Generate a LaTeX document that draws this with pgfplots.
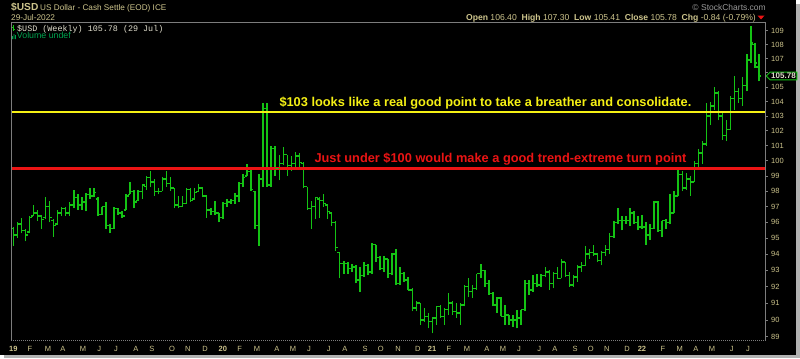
\documentclass[border=0pt]{standalone}
\usepackage{pgfplots}
\pgfplotsset{compat=1.18}
\usepackage{pgfplotstable}
\usepackage{fontspec}
\setmainfont{Liberation Sans}
\newfontfamily\monofont{Liberation Mono}
\usetikzlibrary{shapes.symbols}
\definecolor{barg}{RGB}{20,195,20}
\definecolor{khaki}{RGB}{205,196,140}
\definecolor{frameg}{RGB}{125,125,125}
\definecolor{annoy}{RGB}{245,240,20}
\definecolor{annor}{RGB}{235,20,20}
\definecolor{volg}{RGB}{0,165,80}
\definecolor{legw}{RGB}{225,222,205}
\pgfdeclareplotmark{otick}{\pgfpathmoveto{\pgfqpoint{-2.4bp}{0pt}}\pgfpathlineto{\pgfqpoint{0pt}{0pt}}\pgfusepathqstroke}
\pgfdeclareplotmark{ctick}{\pgfpathmoveto{\pgfqpoint{0pt}{0pt}}\pgfpathlineto{\pgfqpoint{2.4bp}{0pt}}\pgfusepathqstroke}

\pgfplotstableread{
j o h l c
0 95.6 95.7 94.5 95.2
1 95.2 96.0 95.0 95.9
2 95.9 96.3 95.3 95.5
3 95.5 95.6 94.8 95.2
4 95.4 96.4 95.3 96.3
5 96.4 97.1 96.4 96.6
6 96.6 96.8 96.1 96.4
7 96.4 96.4 95.6 96.2
8 96.3 97.6 96.2 97.0
9 97.0 97.4 96.0 96.3
10 96.1 96.2 95.1 95.8
11 95.9 96.8 95.9 96.6
12 96.6 97.0 96.4 96.9
13 96.9 97.0 96.4 96.6
14 96.6 97.3 96.4 97.1
15 97.1 98.1 96.9 97.6
16 97.6 97.8 96.8 97.1
17 97.1 97.6 96.8 97.3
18 97.3 97.9 96.7 97.8
19 97.8 98.2 97.5 97.7
20 97.7 98.2 97.6 97.9
21 97.5 97.6 96.4 96.5
22 96.5 97.0 96.5 97.0
23 97.0 97.3 95.6 95.8
24 95.8 95.9 95.3 95.6
25 95.6 97.0 95.6 96.9
26 96.9 96.9 96.5 96.6
27 96.6 96.7 96.3 96.4
28 96.8 97.8 96.8 97.7
29 97.8 98.6 97.8 98.0
30 98.0 98.1 96.9 97.3
31 97.4 98.1 97.4 98.0
32 98.0 98.5 97.5 98.4
33 98.3 99.0 98.1 98.9
34 98.9 99.3 98.3 98.6
35 98.6 98.8 97.7 98.0
36 98.0 98.2 97.8 98.0
37 98.0 98.9 98.0 98.8
38 98.8 99.3 98.3 98.5
39 98.5 98.9 98.0 98.2
40 98.2 98.2 96.9 97.1
41 97.1 97.7 96.9 97.0
42 97.0 97.7 97.0 97.2
43 97.2 98.2 97.2 98.1
44 98.1 98.2 97.3 97.4
45 97.5 98.2 97.5 97.9
46 98.0 98.5 98.0 98.2
47 98.2 98.2 97.6 97.7
48 97.7 97.7 96.3 96.8
49 96.8 96.9 96.5 96.7
50 96.7 97.4 96.5 96.6
51 96.6 96.6 96.0 96.3
52 96.3 97.3 96.2 97.2
53 97.2 97.5 97.0 97.3
54 97.3 97.5 97.2 97.4
55 97.4 97.9 97.2 97.7
56 97.7 98.6 97.3 98.5
57 98.5 99.1 98.3 98.9
58 99.0 99.8 99.0 99.3
59 99.3 99.4 98.0 98.1
60 98.0 98.0 95.6 95.8
61 95.8 99.1 94.5 98.8
62 98.8 103.9 98.3 103.5
63 103.5 103.9 98.3 98.4
64 98.4 101.0 98.3 100.8
65 100.8 101.0 99.0 99.5
66 99.5 100.4 98.7 99.8
67 99.8 100.9 99.7 100.4
68 100.4 100.4 99.0 99.7
69 99.7 100.3 99.3 99.8
70 99.8 100.6 99.4 100.3
71 100.3 100.5 99.5 99.9
72 99.8 99.9 98.2 98.3
73 98.3 98.3 96.8 96.9
74 96.9 97.4 95.6 97.0
75 97.0 97.6 96.2 97.6
76 97.5 97.6 96.3 97.4
77 97.4 97.8 97.0 97.2
78 97.1 97.1 96.2 96.7
79 96.6 96.6 95.8 96.0
80 96.0 96.1 94.2 94.4
81 94.1 94.1 92.5 93.4
82 93.4 93.6 92.8 93.4
83 93.4 93.5 92.8 93.1
84 93.1 93.4 92.9 93.2
85 93.2 93.3 92.2 92.4
86 92.4 93.2 91.7 92.7
87 92.7 93.5 92.6 93.3
88 93.3 93.4 92.7 92.9
89 92.9 94.7 92.8 94.6
90 94.6 94.6 93.5 93.8
91 93.8 93.9 93.0 93.1
92 93.1 93.9 92.9 93.7
93 93.7 93.7 92.5 92.8
94 92.8 94.1 92.7 94.0
95 94.0 94.3 92.1 92.2
96 92.2 93.2 92.1 92.8
97 92.8 92.9 92.3 92.4
98 92.4 92.6 91.8 91.8
99 91.8 91.9 90.5 90.7
100 90.7 91.1 90.5 91.0
101 91.0 91.0 89.7 90.0
102 90.0 90.7 89.9 90.2
103 90.2 90.4 89.5 89.9
104 89.9 90.1 89.2 90.1
105 90.1 90.8 89.7 90.8
106 90.8 90.9 90.1 90.2
107 90.2 90.7 89.7 90.6
108 90.6 91.6 90.3 91.0
109 91.0 91.1 90.3 90.5
110 90.5 91.0 90.1 90.4
111 90.4 91.0 89.7 90.9
112 90.9 92.1 90.8 92.0
113 92.0 92.5 91.4 91.7
114 91.7 92.1 91.3 91.9
115 91.9 92.8 91.8 92.8
116 92.8 93.4 92.5 93.0
117 93.0 93.0 92.0 92.2
118 92.2 92.4 91.5 91.6
119 91.6 91.7 90.8 90.9
120 90.9 91.4 90.4 91.3
121 91.3 91.4 90.2 90.2
122 90.2 90.9 89.7 90.3
123 90.3 90.3 89.7 90.0
124 90.0 90.3 89.6 90.0
125 90.0 90.6 89.5 90.1
126 90.1 90.6 89.7 90.6
127 90.6 92.4 90.5 92.2
128 92.2 92.4 91.5 91.8
129 91.8 92.7 91.7 92.2
130 92.2 92.8 92.0 92.1
131 92.1 92.8 92.0 92.7
132 92.7 93.2 92.6 92.9
133 92.9 93.0 91.8 92.2
134 92.2 92.9 91.9 92.8
135 92.8 93.2 92.5 92.5
136 92.5 93.7 92.5 93.5
137 93.5 93.5 92.6 92.7
138 92.7 92.9 92.0 92.1
139 92.1 92.7 92.0 92.6
140 92.6 93.3 92.3 93.2
141 93.2 93.5 92.9 93.3
142 93.3 94.5 93.3 94.0
143 94.0 94.3 93.7 94.1
144 94.1 94.6 93.9 94.0
145 94.0 94.0 93.5 93.6
146 93.6 94.2 93.3 94.1
147 94.1 94.6 93.9 94.3
148 94.3 95.3 94.0 95.1
149 95.1 96.1 95.0 96.0
150 96.0 96.9 95.9 96.1
151 96.1 96.4 95.5 96.1
152 96.1 96.4 95.9 96.1
153 96.1 96.9 95.8 96.6
154 96.6 96.7 95.9 96.0
155 96.0 96.4 95.5 95.7
156 95.7 96.5 95.6 95.7
157 95.7 96.0 94.6 95.2
158 95.2 95.9 94.9 95.6
159 95.6 97.4 95.6 97.3
160 97.3 97.4 95.4 95.5
161 95.5 96.1 95.1 96.1
162 96.1 96.2 95.6 96.0
163 96.0 97.8 95.9 96.6
164 96.6 98.0 96.6 97.7
165 97.7 99.4 97.7 99.1
166 99.1 99.3 98.0 98.2
167 98.2 99.2 98.1 98.8
168 98.8 99.0 97.7 98.6
169 98.6 100.0 98.6 99.8
170 99.8 100.8 99.6 100.5
171 100.5 101.3 99.8 101.1
172 101.1 103.9 101.0 103.0
173 103.0 104.0 102.4 103.7
174 103.7 105.0 103.4 104.6
175 104.6 104.7 102.7 103.0
176 103.0 103.2 101.4 101.7
177 101.7 102.7 101.3 102.1
178 102.1 104.4 102.1 104.2
179 104.2 105.8 103.4 104.7
180 104.7 104.9 103.9 104.2
181 104.2 105.7 103.7 105.1
182 105.1 107.3 104.7 106.9
183 106.9 109.3 106.7 108.1
184 108.0 108.1 106.3 106.7
185 106.4 107.3 105.4 105.78
}\usd

\begin{document}
\begin{tikzpicture}
\useasboundingbox (0,0) rectangle (800bp,-359bp);
\fill[white] (0,0) rectangle (800bp,-359bp);
\fill[black!30] (4bp,-4bp) rectangle (800bp,-358bp);
\fill[black] (0,0) rectangle (796bp,-355bp);
\pgfplotstablegetrowsof{\usd}
\pgfmathtruncatemacro{\lastrow}{\pgfplotsretval-1}
\begin{axis}[
  at={(11bp,-340.7bp)}, anchor=south west,
  scale only axis, width=754bp, height=318bp,
  xmin=-0.571, xmax=186.53,
  ymode=log, ymin=88.77, ymax=109.58,
  axis line style={draw=none},
  clip=false,
  ytick={89,90,91,92,93,94,95,96,97,98,99,100,101,102,103,104,105,106,107,108,109},
  yticklabels={89,90,91,92,93,94,95,96,97,98,99,100,101,102,103,104,105,{},107,108,109},
  ytick pos=right, yticklabel pos=right,
  tick align=outside,
  major tick length=2.5bp,
  minor tick num=0,
  ytick style={draw=frameg, line width=0.6bp},
  yticklabel style={anchor=west, inner sep=0pt, xshift=3.5bp, text=khaki,
    font=\fontsize{7.5bp}{9bp}\selectfont},
  xtick={0,4.14,8.6,12.3,17.3,21.3,25.5,30.4,34.4,39.4,43.3,47.6,52.0,56.2,60.5,65.4,69.4,73.4,78.3,82.3,87.3,91.2,95.5,100.4,103.9,108.1,112.6,117.5,121.5,125.5,130.5,134.4,139.4,143.3,147.3,152.3,156.0,161.2,165.4,169.4,173.4,178.3,182.3},
  xticklabels={\textbf{19},F,M,A,M,J,J,A,S,O,N,D,\textbf{20},F,M,A,M,J,J,A,S,O,N,D,\textbf{21},F,M,A,M,J,J,A,S,O,N,D,\textbf{22},F,M,A,M,J,J},
  xtick pos=bottom,
  xtick style={draw=none},
  xticklabel style={anchor=base, inner sep=0pt, yshift=-8.6bp, text=khaki,
    font=\fontsize{7.5bp}{9bp}\selectfont},
]
% high-low bars, one per week, read from the table
\pgfplotsinvokeforeach{0,...,\lastrow}{
  \pgfplotstablegetelem{#1}{j}\of{\usd}\let\jj\pgfplotsretval
  \pgfplotstablegetelem{#1}{l}\of{\usd}\let\lo\pgfplotsretval
  \pgfplotstablegetelem{#1}{h}\of{\usd}\let\hi\pgfplotsretval
  \edef\tmp{\noexpand\addplot[draw=barg, line width=1.5bp, mark=none, forget plot] coordinates {(\jj,\lo) (\jj,\hi)};}
  \tmp
}
\addplot[color=barg, only marks, mark=ctick, mark options={draw=barg, line width=1.4bp}]
  table[x=j, y=c] {\usd};
\addplot[color=barg, only marks, mark=otick, mark options={draw=barg, line width=1.4bp}]
  table[x=j, y=o] {\usd};
\addplot[annoy, line width=2.3bp] coordinates {(-0.571,103.27) (186.53,103.27)};
\addplot[annor, line width=2.8bp] coordinates {(-0.571,99.48) (186.53,99.48)};
\end{axis}
\node[signal, signal to=west, draw=barg, line width=1bp, fill=black, text=legw,
  font=\bfseries\fontsize{8bp}{9bp}\selectfont, inner xsep=1.2bp, inner ysep=1bp,
  anchor=west] at (765.5bp,-76bp) {105.78};
% frame
\draw[frameg, line width=0.8bp] (11bp,-340.7bp) -- (11bp,-22.7bp) -- (765bp,-22.7bp) -- (765bp,-340.7bp);
\draw[frameg, line width=0.8bp, dash pattern=on 1bp off 1bp] (11bp,-340.7bp) -- (765bp,-340.7bp);
% header
\node[anchor=base west, inner sep=0pt, text=khaki, font=\bfseries\fontsize{10.2bp}{12bp}\selectfont] at (11bp,-10bp) {\$USD};
\node[anchor=base west, inner sep=0pt, text=khaki, font=\fontsize{8.2bp}{10bp}\selectfont] at (40bp,-10bp) {US Dollar - Cash Settle (EOD) ICE};
\node[anchor=base west, inner sep=0pt, text=khaki, font=\fontsize{8.3bp}{10bp}\selectfont] at (11bp,-20bp) {29-Jul-2022};
\node[anchor=base east, inner sep=0pt, text=black!40!white, font=\fontsize{8.5bp}{10bp}\selectfont] at (766bp,-10bp) {\textcopyright\ StockCharts.com};
\node[anchor=base east, inner sep=0pt, text=khaki, font=\fontsize{8.6bp}{10bp}\selectfont] at (756bp,-20bp) {\textbf{Open} 106.40\ \ \textbf{High} 107.30\ \ \textbf{Low} 105.41\ \ \textbf{Close} 105.78\ \ \textbf{Chg} -0.84 (-0.79\%)};
\fill[annor] (757.5bp,-15.5bp) -- (764.5bp,-15.5bp) -- (761bp,-19.5bp) -- cycle;
% legend in plot
\draw[barg, line width=0.8bp] (13.5bp,-25bp) -- (13.5bp,-31bp) (12bp,-27bp) -- (13.5bp,-27bp) (13.5bp,-29bp) -- (15bp,-29bp);
\node[anchor=base west, inner sep=0pt, text=legw, font=\monofont\fontsize{8.4bp}{10bp}\selectfont] at (17bp,-31bp) {\$USD (Weekly) 105.78 (29 Jul)};
\fill[volg] (12bp,-39bp) rectangle (12.9bp,-36bp) (13.5bp,-39bp) rectangle (14.4bp,-34bp) (15bp,-39bp) rectangle (15.9bp,-35bp);
\node[anchor=base west, inner sep=0pt, text=volg, font=\fontsize{8.8bp}{10bp}\selectfont] at (16.8bp,-38.5bp) {Volume undef};
% annotations
\node[anchor=base west, inner sep=0pt, text=annoy, font=\bfseries\fontsize{12.8bp}{14bp}\selectfont] at (279.3bp,-106.3bp) {\$103 looks like a real good point to take a breather and consolidate.};
\node[anchor=base west, inner sep=0pt, text=annor, font=\bfseries\fontsize{12.8bp}{14bp}\selectfont] at (314.3bp,-162.5bp) {Just under \$100 would make a good trend-extreme turn point};
\end{tikzpicture}
\end{document}
